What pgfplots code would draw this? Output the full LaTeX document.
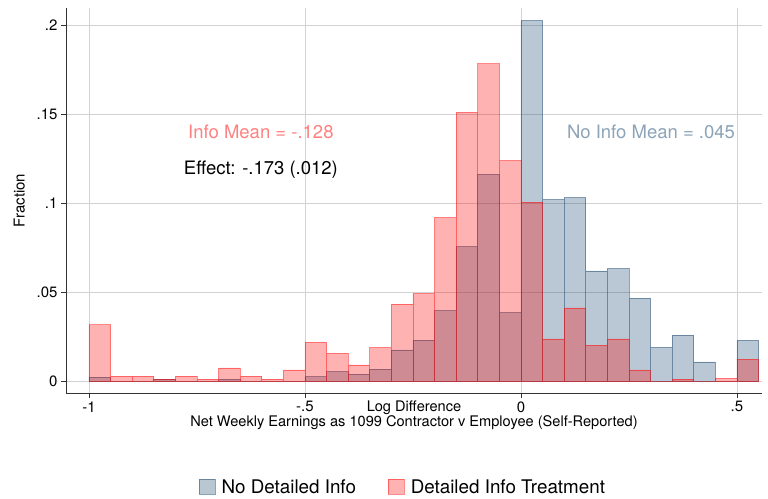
\documentclass[border=0pt]{standalone}
\usepackage{fontspec}
\setmainfont{TeX Gyre Heros}
\usepackage{pgfplots}
\pgfplotsset{compat=1.18}
\definecolor{stNavy}{RGB}{26,71,111}
\definecolor{stRed}{RGB}{255,0,0}

\begin{document}
\begin{tikzpicture}
\begin{axis}[
  scale only axis, width=696pt, height=385pt,
  xmin=-1.0532, xmax=0.558, ymin=-0.00646, ymax=0.2098,
  axis x line*=bottom, axis y line*=left,
  axis line style={black!80, line width=0.7pt, -},
  tick align=outside, major tick length=5pt,
  tick style={black!80, line width=0.7pt},
  xtick={-1,-0.5,0,0.5}, xticklabels={-1,-.5,0,.5},
  ytick={0,0.05,0.1,0.15,0.2}, yticklabels={0,.05,.1,.15,.2},
  ticklabel style={font=\fontsize{15}{16}\selectfont},
  xmajorgrids, ymajorgrids,
  grid style={gray!35, line width=0.8pt},
  ylabel={Fraction}, ylabel style={font=\fontsize{15}{16}\selectfont},
  ylabel shift=5pt,
  xlabel={Log Difference\\Net Weekly Earnings as 1099 Contractor v Employee (Self-Reported)},
  xlabel style={font=\fontsize{14.6}{14}\selectfont, align=center,
    at={(axis description cs:0.5,0)}, anchor=north, yshift=-4pt},
  legend style={at={(0.484,-0.244)}, anchor=center, draw=none,
    font=\fontsize{18.8}{20}\selectfont, legend columns=2,
    /tikz/every even column/.append style={column sep=30pt}},
  legend image code/.code={\draw[#1] (0pt,-7pt) rectangle (16pt,8pt);},
  legend cell align=left,
  clip=false,
]
\addplot[ybar interval, fill=stNavy, fill opacity=0.3, draw=stNavy, draw opacity=0.5, line width=0.8pt]
 coordinates {
 (-1.00,0.0025) (-0.95,0) (-0.90,0) (-0.85,0.0014) (-0.80,0) (-0.75,0)
 (-0.70,0.0014) (-0.65,0) (-0.60,0) (-0.55,0) (-0.50,0.0027) (-0.45,0.0055)
 (-0.40,0.0042) (-0.35,0.0070) (-0.30,0.0177) (-0.25,0.0233) (-0.20,0.0398)
 (-0.15,0.0757) (-0.10,0.1164) (-0.05,0.0387) (0.00,0.2027) (0.05,0.1021)
 (0.10,0.1033) (0.15,0.0621) (0.20,0.0634) (0.25,0.0469) (0.30,0.0192)
 (0.35,0.0261) (0.40,0.0110) (0.45,0) (0.50,0.0231) (0.55,0.0231)};
\addlegendentry{\hspace{4pt}No Detailed Info}
\addplot[ybar interval, fill=stRed, fill opacity=0.3, draw=stRed, draw opacity=0.45, line width=0.8pt]
 coordinates {
 (-1.00,0.0318) (-0.95,0.0030) (-0.90,0.0030) (-0.85,0.0014) (-0.80,0.0030) (-0.75,0.0014)
 (-0.70,0.0076) (-0.65,0.0030) (-0.60,0.0014) (-0.55,0.0065) (-0.50,0.0220) (-0.45,0.0158)
 (-0.40,0.0093) (-0.35,0.0190) (-0.30,0.0434) (-0.25,0.0493) (-0.20,0.0920)
 (-0.15,0.1512) (-0.10,0.1784) (-0.05,0.1240) (0.00,0.1007) (0.05,0.0239)
 (0.10,0.0413) (0.15,0.0205) (0.20,0.0239) (0.25,0.0065) (0.30,0)
 (0.35,0.0014) (0.40,0) (0.45,0.0018) (0.50,0.0126) (0.55,0.0126)};
\addlegendentry{\hspace{4pt}Detailed Info Treatment}
\node[text=stRed!50, font=\fontsize{18.5}{20}\selectfont] at (axis cs:-0.602,0.140) {Info Mean = -.128};
\node[text=black, font=\fontsize{18.5}{20}\selectfont] at (axis cs:-0.602,0.119) {Effect: -.173 (.012)};
\node[text=stNavy!50, font=\fontsize{18.5}{20}\selectfont] at (axis cs:0.301,0.140) {No Info Mean = .045};
\path (rel axis cs:0,0) ++(-66pt,-102pt) (rel axis cs:1,1) ++(6pt,8pt);
\end{axis}
\end{tikzpicture}
\end{document}
